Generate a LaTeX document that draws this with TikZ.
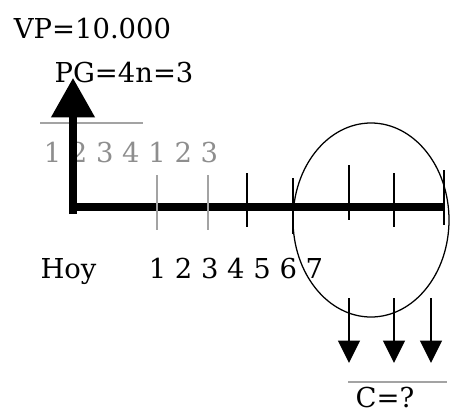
\documentclass[tikz,border=0pt]{standalone}
\usepackage{fontspec}
\setmainfont{DejaVu Serif}
\usepackage{tikz}
\usetikzlibrary{arrows.meta, positioning}
\definecolor{flujogris}{HTML}{A3A3A3}
\definecolor{flujotexto}{HTML}{8E8E8E}

\begin{document}
\begin{tikzpicture}[x=0.025cm, y=-0.025cm,
  etiqueta/.style={font=\fontsize{19.5}{22}\selectfont, inner sep=0pt, anchor=base},
  marca/.style={line width=1.1pt},
  marcagris/.style={flujogris, line width=1.8pt},
  pago/.style={line width=1.1pt, -{Triangle[width=15.6pt, length=16pt]}}]
  \useasboundingbox (0,0) rectangle (454,415);
  % datos arriba
  \node[etiqueta] (vp) at (92.5,38) {VP=10.000};
  \node[etiqueta] (pg) at (124,82) {PG=4n=3};
  \draw[flujogris, line width=1.5pt] (40,123) -- (143,123);
  \node[etiqueta, flujotexto] (grises) at (131,162) {1 2 3 4 1 2 3};
  % eje de tiempo
  \coordinate (hoy) at (73,207);
  \coordinate (fin) at (444,207);
  \draw[line width=5.7pt] (hoy) -- (fin);
  \coordinate (base) at (73,214);
  \coordinate (cima) at (73,78);
  \draw[line width=5pt, -{Triangle[width=30pt, length=28pt]}] (base) -- (cima);
  \foreach \x in {157,208}{
    \draw[marcagris] (\x,175) -- (\x,230);
  }
  \foreach \x/\a/\b in {247/173/227, 293/178/234, 349/165/220, 394/173/227, 444/170/225}{
    \draw[marca] (\x,\a) -- (\x,\b);
  }
  \node[etiqueta] (hoytxt) at (68.5,278) {Hoy};
  \node[etiqueta] (periodos) at (236,278) {1 2 3 4 5 6 7};
  % cuotas
  \coordinate (centro) at (371,220);
  \draw[line width=0.9pt] (centro) ellipse [x radius=78, y radius=97];
  \foreach \x [count=\i] in {349,394,431}{
    \coordinate (salida\i) at (\x,298);
    \coordinate (llegada\i) at (\x,363);
    \draw[pago] (salida\i) -- (llegada\i);
  }
  \draw[flujogris, line width=2pt] (348,382) -- (447,382);
  \node[etiqueta] (cuota) at (385,407) {C=?};
\end{tikzpicture}
\end{document}
